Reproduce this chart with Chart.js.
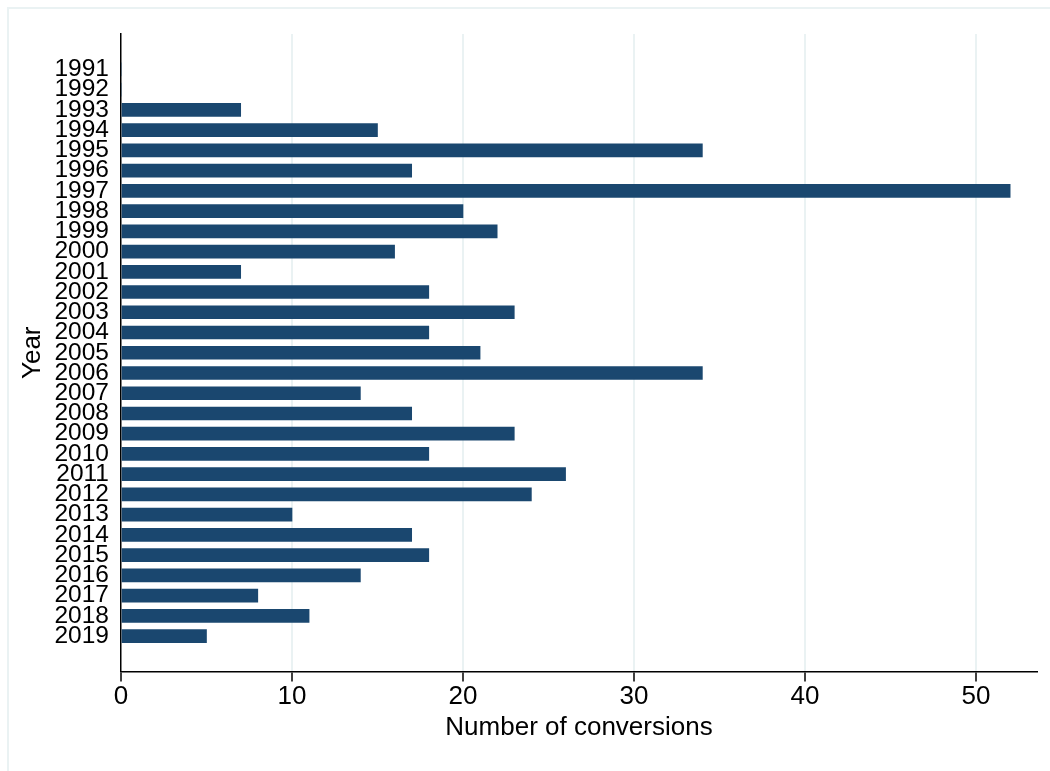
<!DOCTYPE html>
<html>
<head>
<meta charset="utf-8">
<script src="https://cdn.jsdelivr.net/npm/chart.js@4/dist/chart.umd.min.js"></script>
<style>
  html, body { margin: 0; padding: 0; background: #ffffff; }
  #wrap { position: relative; width: 1050px; height: 771px; overflow: hidden; background: #fff; }
  #frame { position: absolute; left: 7px; top: 7px; width: 1100px; height: 800px;
           border-left: 2px solid #eaf2f3; border-top: 2px solid #eaf2f3; pointer-events: none; }
  canvas { position: absolute; left: 0; top: 0; }
</style>
</head>
<body>
<div id="wrap">
  <canvas id="c" width="1050" height="771"></canvas>
  <div id="frame"></div>
</div>
<script>
const years = [1991,1992,1993,1994,1995,1996,1997,1998,1999,2000,2001,2002,2003,2004,2005,2006,2007,2008,2009,2010,2011,2012,2013,2014,2015,2016,2017,2018,2019];
const conversions = [0,0,7,15,34,17,52,20,22,16,7,18,23,18,21,34,14,17,23,18,26,24,10,17,18,14,8,11,5];
const xTicks = [0,10,20,30,40,50];
const xTitle = 'Number of conversions';
const yTitle = 'Year';

const FONT = '"Liberation Sans", Arial, Helvetica, sans-serif';

new Chart(document.getElementById('c'), {
  type: 'bar',
  data: {
    datasets: [{
      data: years.map((y, i) => ({ x: conversions[i], y: y })),
      backgroundColor: '#1a476f',
      borderWidth: 0,
      barThickness: 13
    }]
  },
  options: {
    indexAxis: 'y',
    responsive: false,
    animation: false,
    devicePixelRatio: 1,
    layout: { padding: { top: 34, right: 13, left: 0, bottom: 0 } },
    plugins: { legend: { display: false }, tooltip: { enabled: false } },
    scales: {
      x: {
        type: 'linear',
        position: 'bottom',
        min: 0,
        max: 53.57,
        offset: false,
        afterBuildTicks: (s) => { s.ticks = xTicks.map(v => ({ value: v })); },
        afterFit: (s) => { s.height = 99.5; },
        grid: {
          color: (ctx) => (ctx.tick && ctx.tick.value === 0) ? 'rgba(0,0,0,0)' : '#eaf2f3',
          lineWidth: 2,
          drawTicks: true,
          tickLength: 10,
          tickColor: '#000',
          tickWidth: 1.5
        },
        border: { display: true, color: '#000', width: 1.5 },
        ticks: {
          color: '#000',
          font: { family: FONT, size: 26 },
          padding: 0,
          maxRotation: 0,
          callback: (v) => String(v)
        },
        title: {
          display: true,
          text: xTitle,
          color: '#000',
          font: { family: FONT, size: 26 },
          padding: { top: 0, bottom: 27.4 }
        }
      },
      y: {
        type: 'linear',
        reverse: true,
        offset: false,
        min: 1989.25,
        max: 2020.75,
        afterBuildTicks: (s) => { s.ticks = years.map(v => ({ value: v })); },
        afterFit: (s) => { s.width = 121; },
        grid: { display: false, drawTicks: false },
        border: { display: true, color: '#000', width: 1.5 },
        ticks: {
          color: '#000',
          font: { family: FONT, size: 24.5 },
          padding: 12,
          autoSkip: false,
          callback: (v) => String(v)
        },
        title: {
          display: true,
          text: yTitle,
          color: '#000',
          font: { family: FONT, size: 26 },
          padding: { top: 17, bottom: 0 }
        }
      }
    }
  }
});
</script>
</body>
</html>
